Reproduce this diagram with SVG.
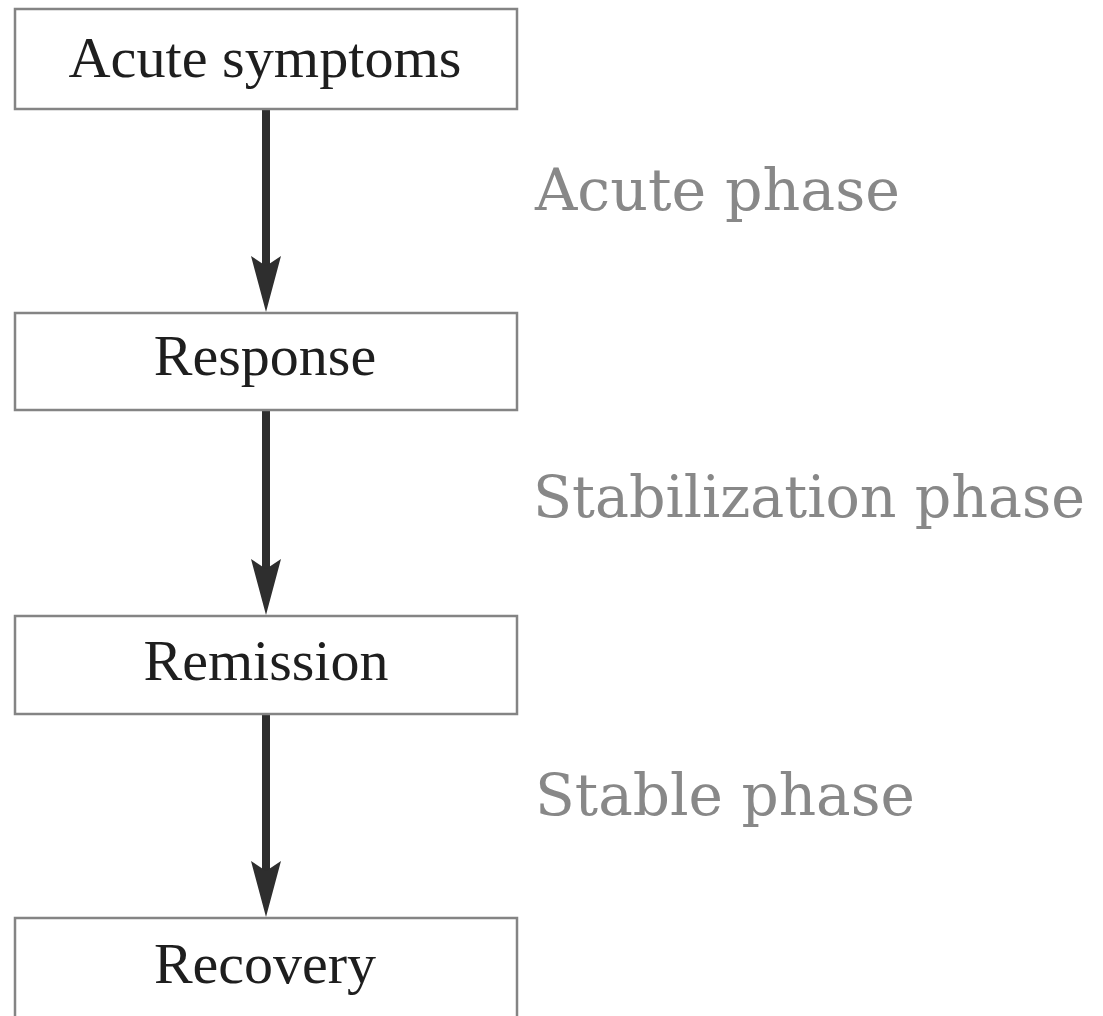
<svg xmlns="http://www.w3.org/2000/svg" width="1103" height="1016" viewBox="0 0 1103 1016">
  <style>
    .box { fill: #ffffff; stroke: #848484; stroke-width: 2.5; }
    .ntext { font-family: "Liberation Serif", "Times New Roman", serif; font-size: 58px; fill: #1e1e1e; text-anchor: middle; }
    .phase { font-family: "DejaVu Serif", "Liberation Serif", serif; font-size: 58px; fill: #888888; }
    .conn { stroke: #2e2e2e; stroke-width: 8; fill: none; }
  </style>
  <defs>
    <marker id="head" markerUnits="userSpaceOnUse" viewBox="-12 -17 60 34" refX="0" refY="0" markerWidth="60" markerHeight="34" orient="auto" overflow="visible">
      <path d="M46,0 L-10,-15 L0,0 L-10,15 Z" fill="#2e2e2e"/>
    </marker>
  </defs>
  <rect width="1103" height="1016" fill="#ffffff"/>
  <g id="connectors">
    <line class="conn" x1="266" y1="110" x2="266" y2="266" marker-end="url(#head)"/>
    <line class="conn" x1="266" y1="411" x2="266" y2="569" marker-end="url(#head)"/>
    <line class="conn" x1="266" y1="715" x2="266" y2="871" marker-end="url(#head)"/>
  </g>
  <g id="node-acute-symptoms">
    <rect class="box" x="15" y="9" width="502" height="100"/>
    <text class="ntext" x="265" y="77" textLength="393" lengthAdjust="spacingAndGlyphs">Acute symptoms</text>
  </g>
  <g id="node-response">
    <rect class="box" x="15" y="313" width="502" height="97"/>
    <text class="ntext" x="265" y="375">Response</text>
  </g>
  <g id="node-remission">
    <rect class="box" x="15" y="616" width="502" height="98"/>
    <text class="ntext" x="266" y="680">Remission</text>
  </g>
  <g id="node-recovery">
    <rect class="box" x="15" y="918" width="502" height="120"/>
    <text class="ntext" x="265" y="983">Recovery</text>
  </g>
  <g id="phase-labels">
    <text class="phase" x="535" y="210" textLength="365" lengthAdjust="spacingAndGlyphs">Acute phase</text>
    <text class="phase" x="533" y="517" textLength="552" lengthAdjust="spacingAndGlyphs">Stabilization phase</text>
    <text class="phase" x="535" y="815" textLength="380" lengthAdjust="spacingAndGlyphs">Stable phase</text>
  </g>
</svg>
